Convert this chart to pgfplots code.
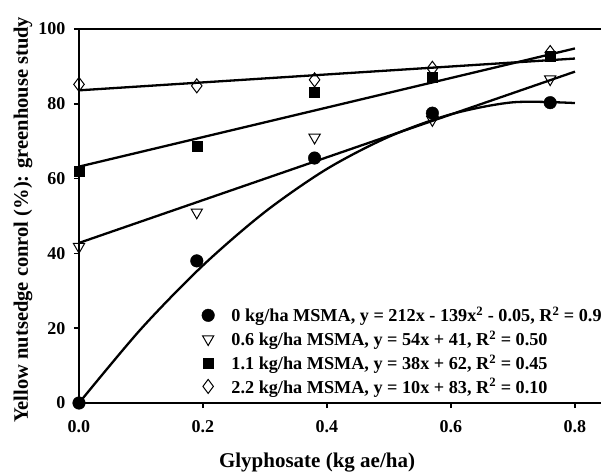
\documentclass[border=0pt]{standalone}
\usepackage{fontspec}
\setmainfont{Liberation Serif}
\usepackage{pgfplots}
\pgfplotsset{compat=1.18}
\begin{document}
\begin{tikzpicture}[x=1pt,y=1pt]
\begin{axis}[
  scale only axis, width=522pt, height=374pt,
  xmin=0, xmax=0.842, ymin=0, ymax=100,
  axis x line=box, axis y line=left,
  axis line style={-, line width=2pt},
  xtick={0,0.2,0.4,0.6,0.8}, ytick={0,20,40,60,80,100},
  xtick pos=bottom, ytick pos=left,
  tick align=outside, major tick length=5pt,
  every tick/.style={line width=1.5pt, black},
  font=\fontsize{18}{21}\selectfont\bfseries,
  /pgf/number format/assume math mode=true,
  xticklabel style={yshift=-9pt, /pgf/number format/.cd, fixed, fixed zerofill, precision=1},
  yticklabel style={xshift=-5pt},
  xlabel={Glyphosate (kg ae/ha)},
  ylabel={Yellow nutsedge conrol (\%): greenhouse study},
  every axis x label/.style={at={(rel axis cs:0.456,0)}, yshift=-60pt, anchor=center,
    font=\fontsize{21}{24}\selectfont\bfseries},
  every axis y label/.style={at={(rel axis cs:0,0.49)}, xshift=-56pt, rotate=90, anchor=center,
    font=\fontsize{20.5}{24}\selectfont\bfseries},
  clip=false,
  legend style={draw=none, fill=none, at={(rel axis cs:0.235,0.262)}, anchor=north west,
    row sep=3.5pt, column sep=15pt, inner sep=0pt,
    font=\fontsize{18.2}{21}\selectfont\bfseries},
  legend cell align=left,
]
% regression curves
\addplot[line width=2.3pt, smooth, forget plot] coordinates {
(0,0) (0.1,19.8) (0.2,36.8) (0.3,51.1) (0.4,62.6) (0.5,71.2) (0.6,77.2) (0.7,80.4) (0.8,80.2)};
\addplot[line width=2.3pt, forget plot] coordinates {(0,42.8) (0.8,88.6)};
\addplot[line width=2.3pt, forget plot] coordinates {(0,63.2) (0.8,94.8)};
\addplot[line width=2.3pt, forget plot] coordinates {(0,83.6) (0.8,92.1)};
% observations
\addplot[only marks, mark=*, mark size=6.3pt, mark options={fill=black}] coordinates {
(0,0) (0.19,38.0) (0.38,65.5) (0.57,77.5) (0.76,80.3)};
\addlegendentry{0 kg/ha MSMA, y = 212x - 139x\textsuperscript{2} - 0.05, R\textsuperscript{2} = 0.90}
\addplot[only marks, mark=triangle, mark size=6.5pt, mark options={rotate=180, fill=white, line width=1pt}] coordinates {
(0,41.8) (0.19,51.0) (0.38,71.0) (0.57,75.7) (0.76,86.6)};
\addlegendentry{0.6 kg/ha MSMA, y = 54x + 41, R\textsuperscript{2} = 0.50}
\addplot[only marks, mark=square*, mark size=5pt, mark options={fill=black}] coordinates {
(0,62.1) (0.19,68.7) (0.38,83.2) (0.57,87.2) (0.76,92.8)};
\addlegendentry{1.1 kg/ha MSMA, y = 38x + 62, R\textsuperscript{2} = 0.45}
\addplot[only marks, mark=diamond, mark size=7pt, mark options={fill=white, line width=1pt}] coordinates {
(0,85.2) (0.19,84.8) (0.38,86.4) (0.57,89.5) (0.76,93.7)};
\addlegendentry{2.2 kg/ha MSMA, y = 10x + 83, R\textsuperscript{2} = 0.10}
\end{axis}
\pgfresetboundingbox
\useasboundingbox (-79pt,-70pt) rectangle (522pt,403pt);
\end{tikzpicture}
\end{document}
